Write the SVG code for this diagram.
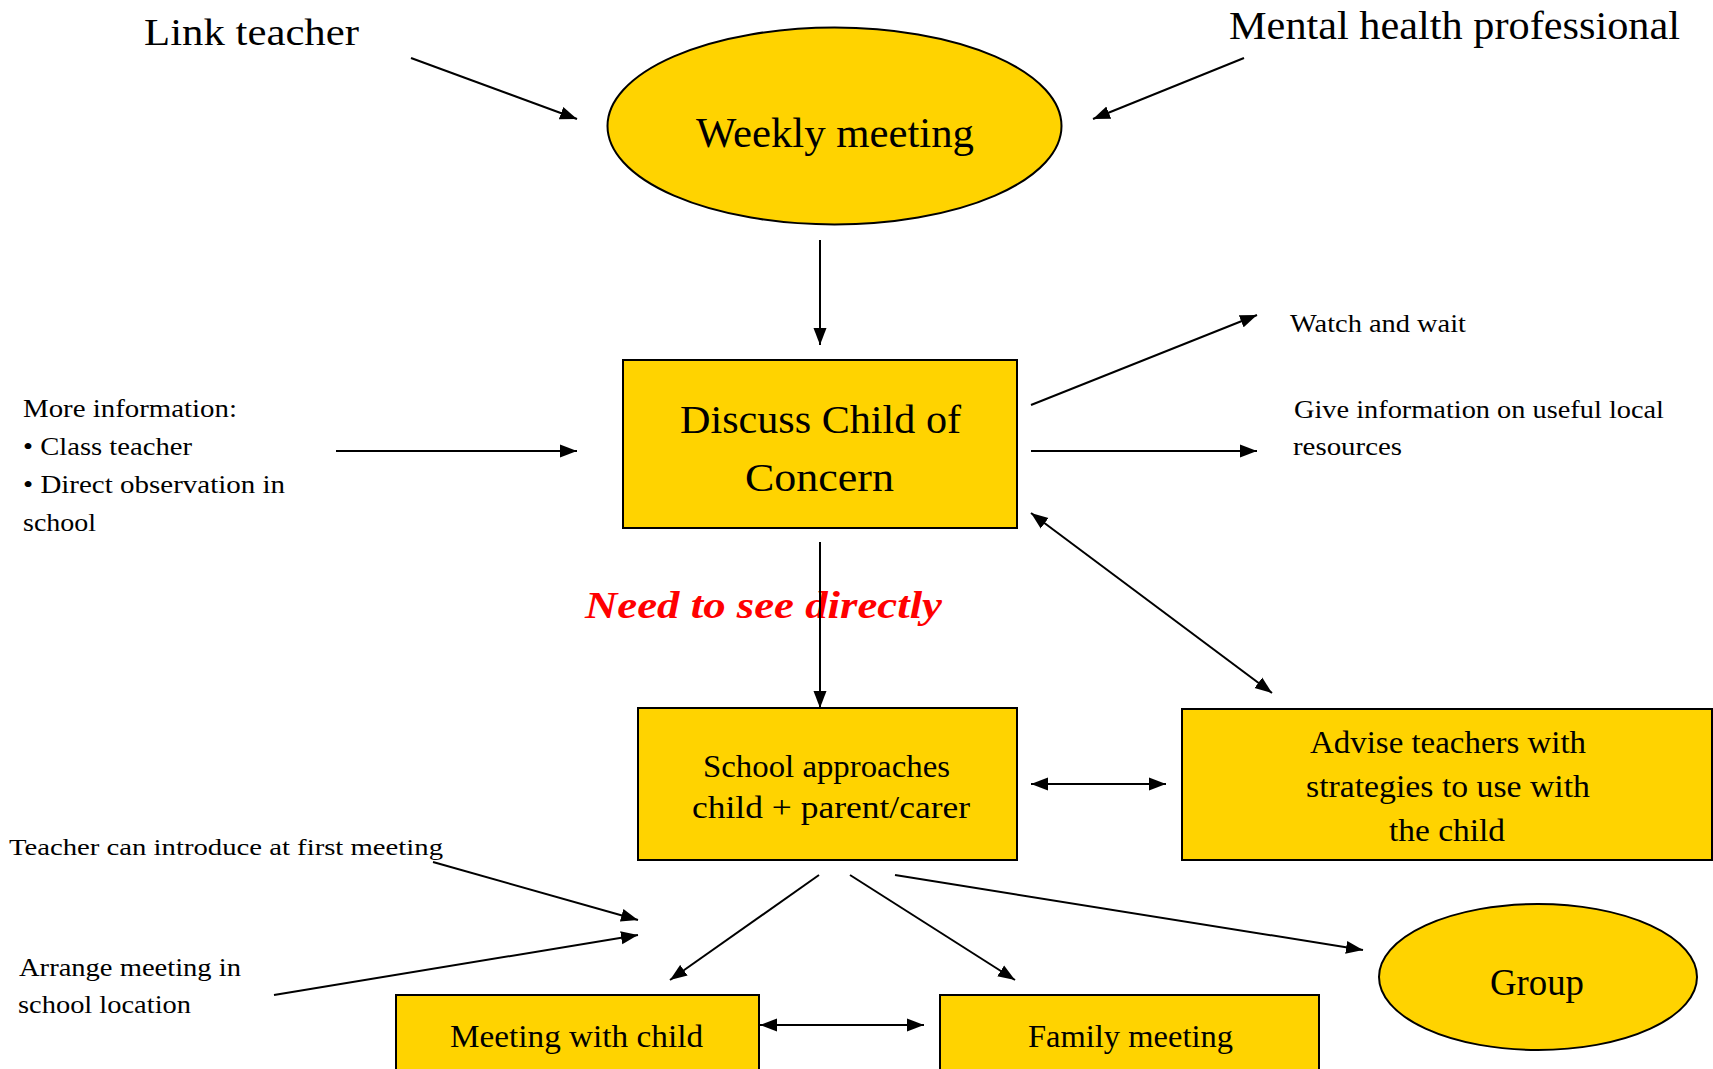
<svg xmlns="http://www.w3.org/2000/svg" width="1713" height="1069" viewBox="0 0 1713 1069">
<style>
.node{fill:#FFD300;stroke:#000;stroke-width:2}
.t{font-family:"Liberation Serif","Times New Roman",serif;fill:#000}
.c line{stroke:#000;stroke-width:2;fill:none}
</style>
<defs>
<marker id="ah" markerUnits="userSpaceOnUse" markerWidth="18" markerHeight="14" refX="17" refY="6.5" orient="auto-start-reverse" viewBox="0 0 18 13">
<path d="M0,0 L17,6.5 L0,13 z" fill="#000"/>
</marker>
</defs>
<rect width="1713" height="1069" fill="#fff"/>

<g id="label-link-teacher"><text class="t" x="144" y="45" font-size="37" textLength="215" lengthAdjust="spacingAndGlyphs">Link teacher</text></g>
<g id="label-mental-health"><text class="t" x="1229" y="39" font-size="39" textLength="451" lengthAdjust="spacingAndGlyphs">Mental health professional</text></g>

<g id="weekly-meeting">
<ellipse class="node" cx="834.5" cy="126" rx="227" ry="98.5"/>
<text class="t" x="696" y="147" font-size="42" textLength="278" lengthAdjust="spacingAndGlyphs">Weekly meeting</text>
</g>

<g id="discuss-child">
<rect class="node" x="623" y="360" width="394" height="168"/>
<text class="t" x="680" y="433" font-size="41" textLength="281" lengthAdjust="spacingAndGlyphs">Discuss Child of</text>
<text class="t" x="745" y="491" font-size="41" textLength="149" lengthAdjust="spacingAndGlyphs">Concern</text>
</g>

<g id="label-more-info">
<text class="t" x="23" y="417" font-size="26" textLength="214" lengthAdjust="spacingAndGlyphs">More information:</text>
<text class="t" x="23" y="455" font-size="26" textLength="169" lengthAdjust="spacingAndGlyphs">• Class teacher</text>
<text class="t" x="23" y="493" font-size="26" textLength="262" lengthAdjust="spacingAndGlyphs">• Direct observation in</text>
<text class="t" x="23" y="531" font-size="26" textLength="73" lengthAdjust="spacingAndGlyphs">school</text>
</g>

<g id="label-watch"><text class="t" x="1290" y="332" font-size="26" textLength="176" lengthAdjust="spacingAndGlyphs">Watch and wait</text></g>
<g id="label-give-info">
<text class="t" x="1294" y="418" font-size="26" textLength="370" lengthAdjust="spacingAndGlyphs">Give information on useful local</text>
<text class="t" x="1293" y="455" font-size="26" textLength="109" lengthAdjust="spacingAndGlyphs">resources</text>
</g>

<g id="label-need-to-see"><text x="585" y="618" font-family="'Liberation Serif','Times New Roman',serif" font-size="38" font-weight="bold" font-style="italic" fill="#FF0000" textLength="357" lengthAdjust="spacingAndGlyphs">Need to see directly</text></g>

<g id="school-approaches">
<rect class="node" x="638" y="708" width="379" height="152"/>
<text class="t" x="703" y="777" font-size="32" textLength="247" lengthAdjust="spacingAndGlyphs">School approaches</text>
<text class="t" x="692" y="818" font-size="32" textLength="278" lengthAdjust="spacingAndGlyphs">child + parent/carer</text>
</g>

<g id="advise-teachers">
<rect class="node" x="1182" y="709" width="530" height="151"/>
<text class="t" x="1310" y="753" font-size="31" textLength="276" lengthAdjust="spacingAndGlyphs">Advise teachers with</text>
<text class="t" x="1306" y="797" font-size="31" textLength="284" lengthAdjust="spacingAndGlyphs">strategies to use with</text>
<text class="t" x="1389" y="841" font-size="31" textLength="116" lengthAdjust="spacingAndGlyphs">the child</text>
</g>

<g id="label-teacher-introduce"><text class="t" x="9" y="855" font-size="24" textLength="434" lengthAdjust="spacingAndGlyphs">Teacher can introduce at first meeting</text></g>
<g id="label-arrange">
<text class="t" x="19" y="976" font-size="26" textLength="222" lengthAdjust="spacingAndGlyphs">Arrange meeting in</text>
<text class="t" x="18" y="1013" font-size="26" textLength="173" lengthAdjust="spacingAndGlyphs">school location</text>
</g>

<g id="meeting-with-child">
<rect class="node" x="396" y="995" width="363" height="90"/>
<text class="t" x="450" y="1047" font-size="32" textLength="253" lengthAdjust="spacingAndGlyphs">Meeting with child</text>
</g>

<g id="family-meeting">
<rect class="node" x="940" y="995" width="379" height="90"/>
<text class="t" x="1028" y="1047" font-size="32" textLength="205" lengthAdjust="spacingAndGlyphs">Family meeting</text>
</g>

<g id="group">
<ellipse class="node" cx="1538" cy="977" rx="159" ry="73"/>
<text class="t" x="1490" y="995" font-size="37" textLength="94" lengthAdjust="spacingAndGlyphs">Group</text>
</g>

<g id="connectors" class="c">
<line x1="411" y1="58" x2="577" y2="119" marker-end="url(#ah)"/>
<line x1="1244" y1="58" x2="1093" y2="119" marker-end="url(#ah)"/>
<line x1="820" y1="240" x2="820" y2="345" marker-end="url(#ah)"/>
<line x1="336" y1="451" x2="577" y2="451" marker-end="url(#ah)"/>
<line x1="1031" y1="405" x2="1257" y2="315" marker-end="url(#ah)"/>
<line x1="1031" y1="451" x2="1257" y2="451" marker-end="url(#ah)"/>
<line x1="1031" y1="513" x2="1272" y2="693" marker-start="url(#ah)" marker-end="url(#ah)"/>
<line x1="820" y1="542" x2="820" y2="708" marker-end="url(#ah)"/>
<line x1="1031" y1="784" x2="1166" y2="784" marker-start="url(#ah)" marker-end="url(#ah)"/>
<line x1="433" y1="862" x2="638" y2="920" marker-end="url(#ah)"/>
<line x1="274" y1="995" x2="638" y2="935" marker-end="url(#ah)"/>
<line x1="819" y1="875" x2="670" y2="980" marker-end="url(#ah)"/>
<line x1="850" y1="875" x2="1015" y2="980" marker-end="url(#ah)"/>
<line x1="895" y1="875" x2="1363" y2="950" marker-end="url(#ah)"/>
<line x1="760" y1="1025" x2="924" y2="1025" marker-start="url(#ah)" marker-end="url(#ah)"/>
</g>
</svg>
